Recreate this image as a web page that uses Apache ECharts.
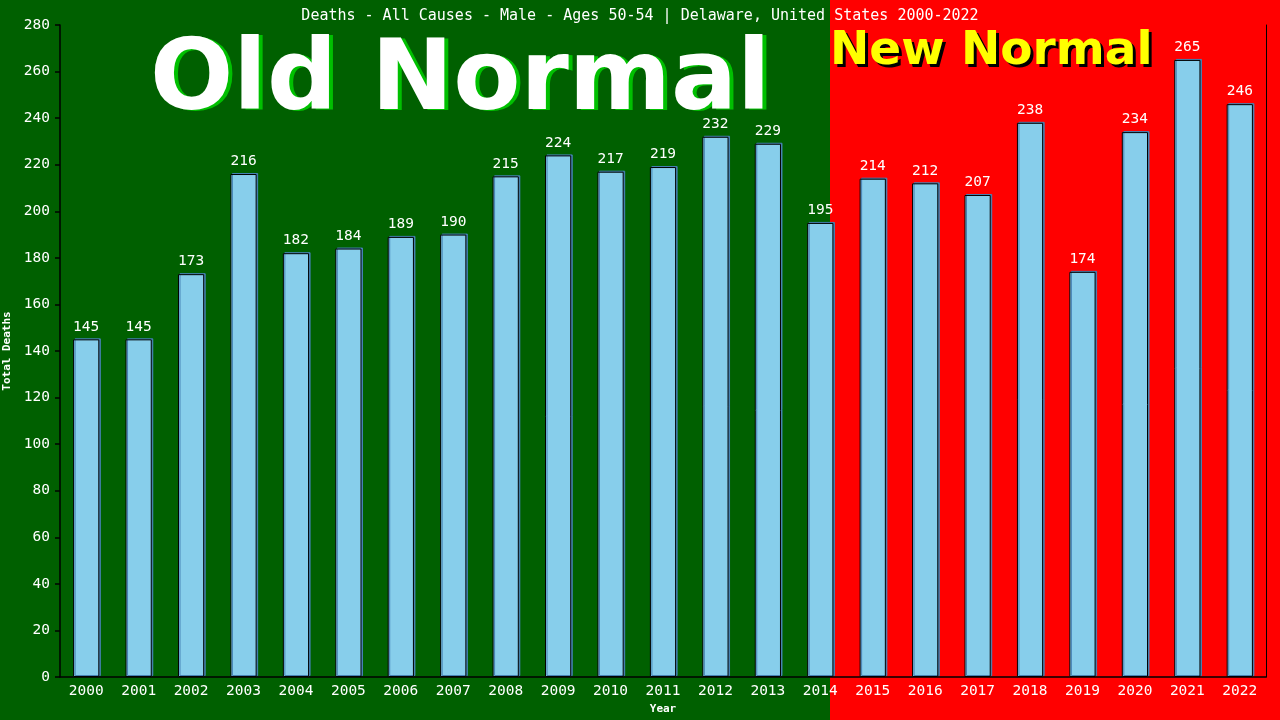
<!DOCTYPE html>
<html>
<head>
<meta charset="utf-8">
<script src="https://cdn.jsdelivr.net/npm/echarts@6/dist/echarts.min.js"></script>
<style>
  html, body { margin: 0; padding: 0; background: #006000; }
  #chart { width: 1280px; height: 720px; }
</style>
</head>
<body>
<div id="chart"></div>
<script>
const years = ["2000", "2001", "2002", "2003", "2004", "2005", "2006", "2007", "2008", "2009", "2010", "2011",
  "2012", "2013", "2014", "2015", "2016", "2017", "2018", "2019", "2020", "2021", "2022"];
const deaths = [145, 145, 173, 216, 182, 184, 189, 190, 215, 224, 217, 219,
  232, 229, 195, 214, 212, 207, 238, 174, 234, 265, 246];
const yTicks = { min: 0, max: 280, step: 20 };

const mono = "DejaVu Sans Mono";
const bigOld = "bold 98px 'DejaVu Sans'";
const bigNew = "bold 47px 'DejaVu Sans'";
const chart = echarts.init(document.getElementById("chart"));

const options = {
  backgroundColor: "#006000",
  animation: false,
  title: {
    text: "Deaths - All Causes - Male - Ages 50-54 | Delaware, United States 2000-2022",
    left: "center",
    top: 4,
    textStyle: { color: "#fff", fontFamily: mono, fontSize: 15, fontWeight: "normal" },
  },
  graphic: [
    // red "new normal" half behind the plot
    { type: "rect", z: -10, shape: { x: 830, y: 0, width: 450, height: 720 }, style: { fill: "#ff0000" } },
    // banner texts, drawn twice for the hard offset shadow
    { type: "text", z: 1, left: 154, top: 36, style: { text: "Old Normal", fill: "#00c000", font: bigOld } },
    { type: "text", z: 2, left: 150, top: 35, style: { text: "Old Normal", fill: "#fff", font: bigOld } },
    { type: "text", z: 1, left: 833, top: 31, style: { text: "New Normal", fill: "#000", font: bigNew } },
    { type: "text", z: 2, left: 830, top: 28, style: { text: "New Normal", fill: "#ffff00", font: bigNew } },
  ],
  grid: { left: 60, right: 14, top: 25, bottom: 43, outerBoundsMode: "none" },
  xAxis: {
    type: "category",
    data: years,
    name: "Year",
    nameLocation: "middle",
    nameGap: 26,
    nameTextStyle: { color: "#fff", fontFamily: mono, fontSize: 11, fontWeight: "bold" },
    axisLine: { lineStyle: { color: "#000", width: 1.5 } },
    axisTick: { show: false },
    axisLabel: { color: "#fff", fontFamily: mono, fontSize: 14.5, margin: 7 },
  },
  yAxis: [
    {
      type: "value",
      min: yTicks.min,
      max: yTicks.max,
      interval: yTicks.step,
      name: "Total Deaths",
      nameLocation: "middle",
      nameGap: 43,
      nameTextStyle: { color: "#fff", fontFamily: mono, fontSize: 11, fontWeight: "bold" },
      axisLine: { show: true, lineStyle: { color: "#000", width: 1.5 } },
      axisTick: { show: true, length: 5, lineStyle: { color: "#000", width: 1.5 } },
      axisLabel: { color: "#fff", fontFamily: mono, fontSize: 14.5, margin: 10 },
      splitLine: { show: false },
    },
    {
      type: "value",
      position: "right",
      min: yTicks.min,
      max: yTicks.max,
      interval: yTicks.step,
      axisLine: { show: true, lineStyle: { color: "#000", width: 1 } },
      axisTick: { show: false },
      axisLabel: { show: false },
      splitLine: { show: false },
    },
  ],
  series: [
    {
      type: "bar",
      data: deaths,
      barWidth: "50%",
      itemStyle: {
        color: "#87ceeb",
        borderColor: "#000",
        borderWidth: 1,
        shadowColor: "#4682b4",
        shadowOffsetX: 1.5,
        shadowOffsetY: -1,
        shadowBlur: 0,
      },
      label: {
        show: true,
        position: "top",
        distance: 5,
        color: "#fff",
        fontFamily: mono,
        fontSize: 14.5,
      },
    },
  ],
};

chart.setOption(options);
</script>
</body>
</html>
